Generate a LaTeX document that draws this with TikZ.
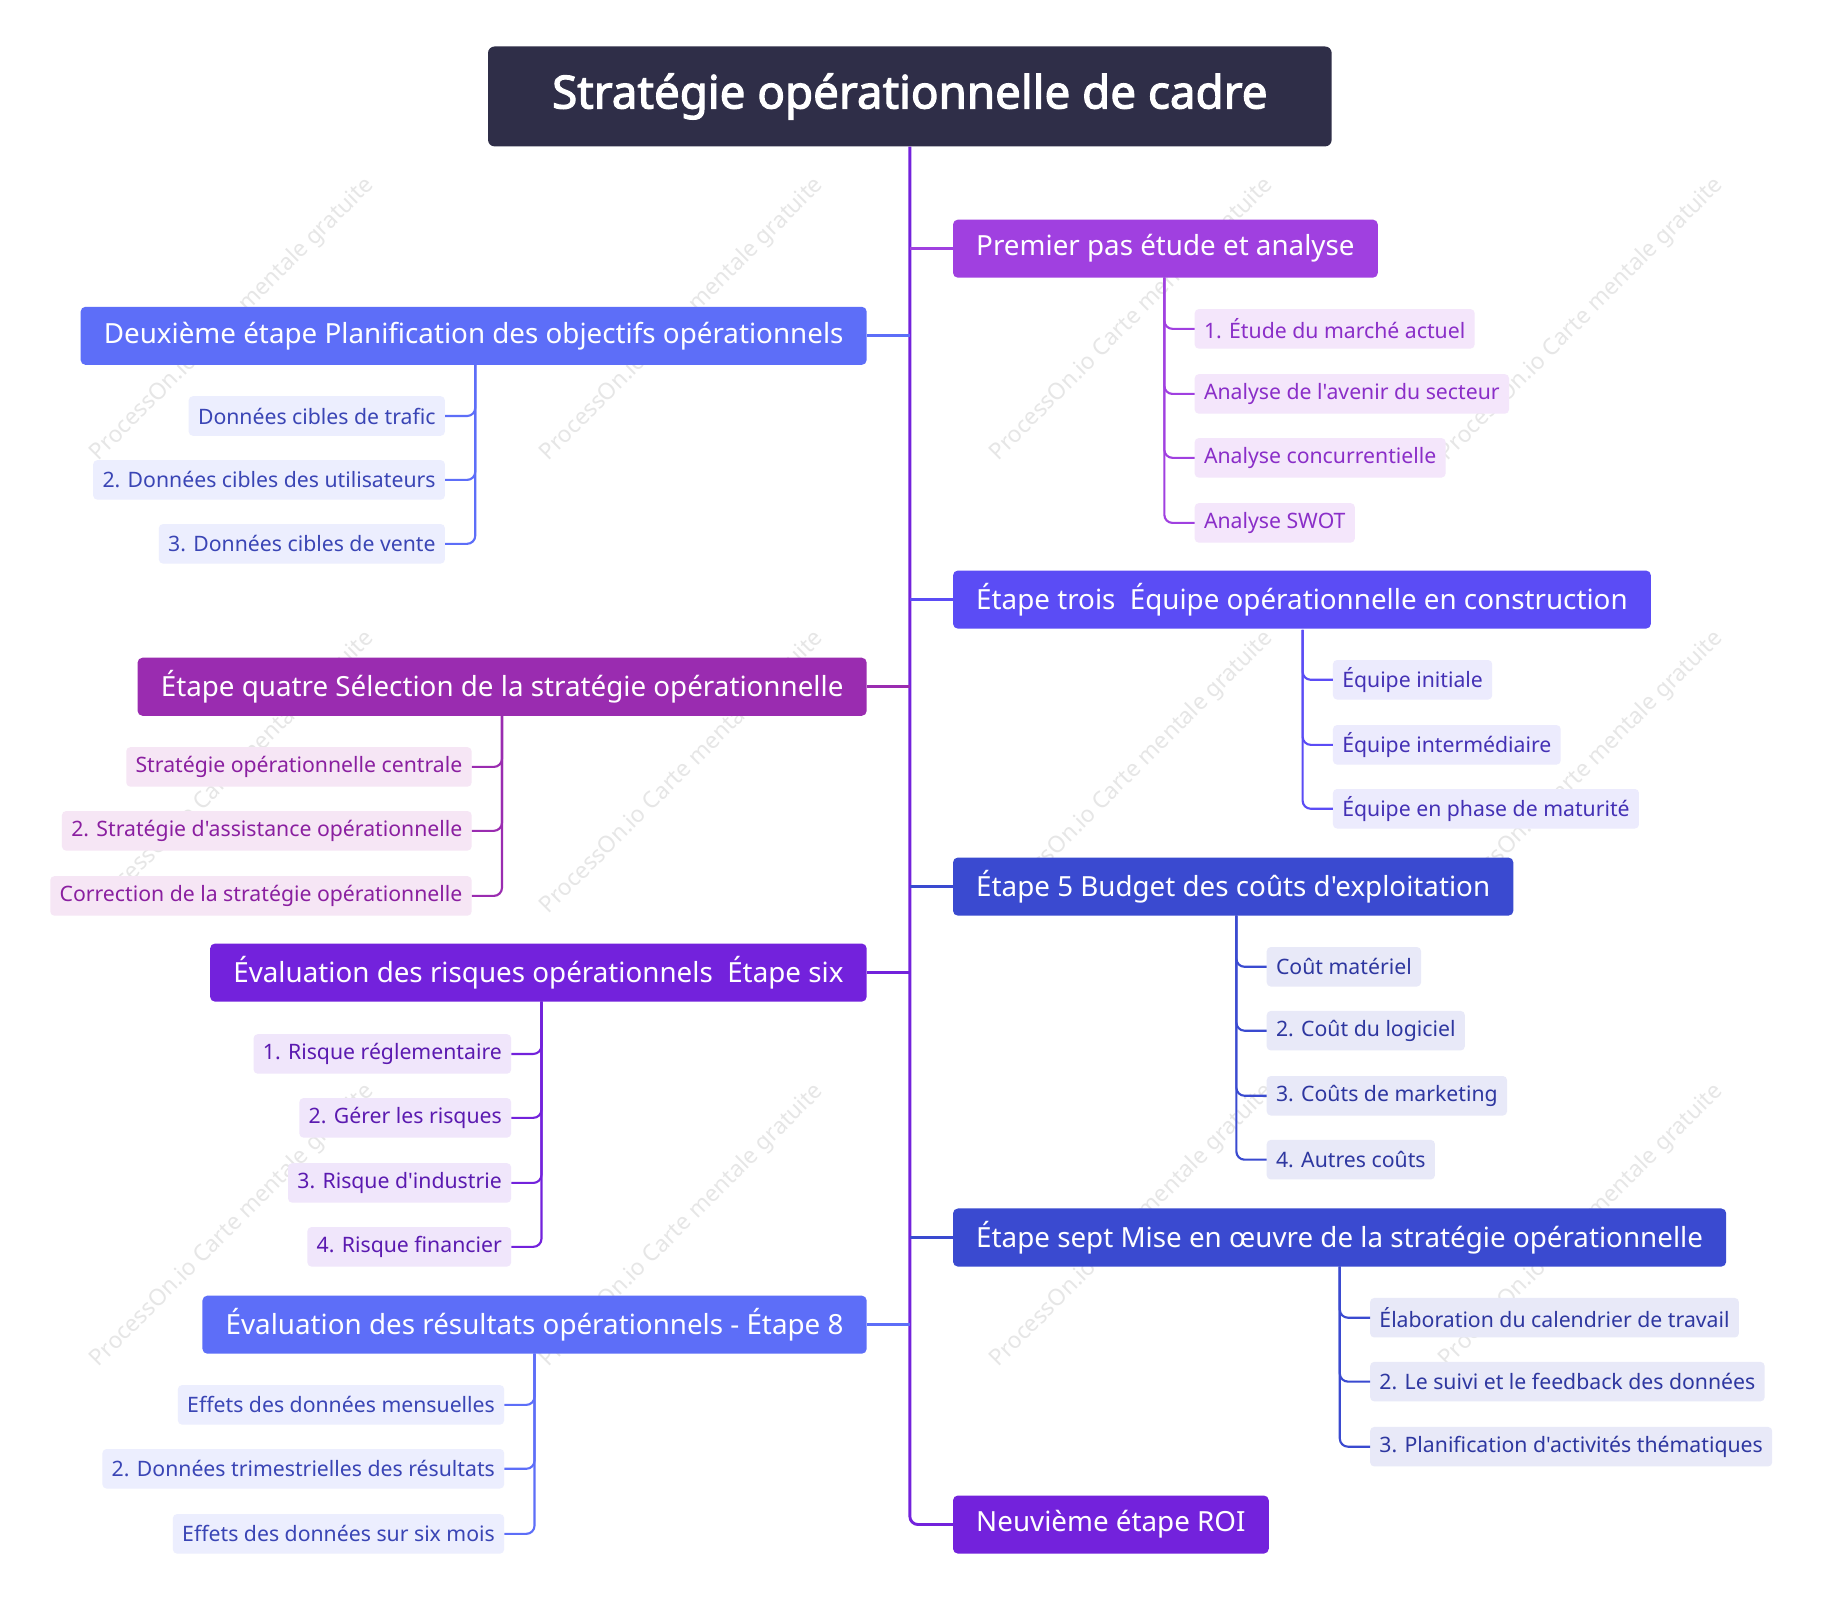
\documentclass[tikz,border=0pt]{standalone}
\usepackage{fontspec}
\setmainfont{Noto Sans}[Ligatures=TeXOff]
\newfontfamily\titlefont{Noto Sans}[FakeBold=2.5]
\definecolor{titlec}{HTML}{2F2E48}
\definecolor{trunkc}{HTML}{7322DC}
\definecolor{cA}{HTML}{A040E0}\definecolor{lA}{HTML}{F4E6FB}\definecolor{tA}{HTML}{8A2EC8}
\definecolor{cB}{HTML}{5B4CF5}\definecolor{lB}{HTML}{ECEBFD}\definecolor{tB}{HTML}{4431B5}
\definecolor{cC}{HTML}{3A4AD0}\definecolor{lC}{HTML}{E8E9F8}\definecolor{tC}{HTML}{2E37A0}
\definecolor{cD}{HTML}{5D6EF8}\definecolor{lD}{HTML}{ECEEFE}\definecolor{tD}{HTML}{3A45B5}
\definecolor{cE}{HTML}{9A2CB0}\definecolor{lE}{HTML}{F6E6F5}\definecolor{tE}{HTML}{8A1FA0}
\definecolor{cF}{HTML}{7322DC}\definecolor{lF}{HTML}{F0E6FB}\definecolor{tF}{HTML}{5B1AB0}
\definecolor{wm}{HTML}{E6E6E6}
\tikzset{
 branchbox/.style={rounded corners=6pt, fill=#1, text=white, minimum height=50*0.05cm, inner xsep=20*0.05cm, font=\fontsize{34pt}{40pt}\selectfont},
 leafbox/.style n args={2}{rounded corners=5pt, fill=#1, text=#2, minimum height=34*0.05cm, inner xsep=8*0.05cm, font=\fontsize{26pt}{30pt}\selectfont},
 conn/.style={draw=#1, line width=3.5pt},
 lconn/.style={draw=#1, line width=2.6pt, rounded corners=10pt},
 wmark/.style={text=wm, rotate=45, font=\fontsize{28pt}{32pt}\selectfont}
}
\begin{document}
\begin{tikzpicture}[x=0.05cm,y=-0.05cm]
\useasboundingbox[fill=white] (0,0) rectangle (1568,1389);
% watermarks
\begin{scope}
\clip (0,0) rectangle (1568,1389);
\foreach \xx in {200,587,974,1361}{
 \foreach \yy in {275,665,1055}{
  \node[wmark] at (\xx,\yy) {ProcessOn.io Carte mentale gratuite};
 }}
\end{scope}
% title
\node[rounded corners=8pt, fill=titlec, text=white, minimum width=726*0.05cm, minimum height=86*0.05cm, font=\fontsize{56pt}{62pt}\titlefont] (title) at (783,83) {Stratégie opérationnelle de cadre};
% right branches
\node[branchbox=cA, anchor=west] (b1) at (820,214) {Premier pas étude et analyse};
\node[branchbox=cB, anchor=west] (b3) at (820,516) {Étape trois\ \ Équipe opérationnelle en construction};
\node[branchbox=cC, anchor=west] (b5) at (820,763) {Étape 5 Budget des coûts d'exploitation};
\node[branchbox=cC, anchor=west] (b7) at (820,1065) {Étape sept Mise en œuvre de la stratégie opérationnelle};
\node[branchbox=cF, anchor=west] (b9) at (820,1312) {Neuvième étape ROI};
% left branches
\node[branchbox=cD, anchor=east] (b2) at (746,289) {Deuxième étape Planification des objectifs opérationnels};
\node[branchbox=cE, anchor=east] (b4) at (746,591) {Étape quatre Sélection de la stratégie opérationnelle};
\node[branchbox=cF, anchor=east] (b6) at (746,837) {Évaluation des risques opérationnels\ \ Étape six};
\node[branchbox=cD, anchor=east] (b8) at (746,1140) {Évaluation des résultats opérationnels - Étape 8};
% trunk
\draw[conn=trunkc, rounded corners=10pt] (title.south) |- (b9.west);
\foreach \b/\c in {b1/cA,b3/cB,b5/cC,b7/cC}{\draw[conn=\c] (783,0 |- \b.west) -- (\b.west);}
\foreach \b/\c in {b2/cD,b4/cE,b6/cF,b8/cD}{\draw[conn=\c] (783,0 |- \b.east) -- (\b.east);}
% leaves b1
\coordinate (s1) at (1002,239);
\node[leafbox={lA}{tA}, anchor=west] (l1a) at (1028,283) {1. Étude du marché actuel};
\node[leafbox={lA}{tA}, anchor=west] (l1b) at (1028,339) {Analyse de l'avenir du secteur};
\node[leafbox={lA}{tA}, anchor=west] (l1c) at (1028,394) {Analyse concurrentielle};
\node[leafbox={lA}{tA}, anchor=west] (l1d) at (1028,450) {Analyse SWOT};
\foreach \l in {l1a,l1b,l1c,l1d}{\draw[lconn=cA] (s1) |- (\l.west);}
% leaves b3
\coordinate (s3) at (1121,542);
\node[leafbox={lB}{tB}, anchor=west] (l3a) at (1147,585) {Équipe initiale};
\node[leafbox={lB}{tB}, anchor=west] (l3b) at (1147,641) {Équipe intermédiaire};
\node[leafbox={lB}{tB}, anchor=west] (l3c) at (1147,696) {Équipe en phase de maturité};
\foreach \l in {l3a,l3b,l3c}{\draw[lconn=cB] (s3) |- (\l.west);}
% leaves b5
\coordinate (s5) at (1064,788);
\node[leafbox={lC}{tC}, anchor=west] (l5a) at (1090,832) {Coût matériel};
\node[leafbox={lC}{tC}, anchor=west] (l5b) at (1090,887) {2. Coût du logiciel};
\node[leafbox={lC}{tC}, anchor=west] (l5c) at (1090,943) {3. Coûts de marketing};
\node[leafbox={lC}{tC}, anchor=west] (l5d) at (1090,998) {4. Autres coûts};
\foreach \l in {l5a,l5b,l5c,l5d}{\draw[lconn=cC] (s5) |- (\l.west);}
% leaves b7
\coordinate (s7) at (1153,1090);
\node[leafbox={lC}{tC}, anchor=west] (l7a) at (1179,1134) {Élaboration du calendrier de travail};
\node[leafbox={lC}{tC}, anchor=west] (l7b) at (1179,1189) {2. Le suivi et le feedback des données};
\node[leafbox={lC}{tC}, anchor=west] (l7c) at (1179,1245) {3. Planification d'activités thématiques};
\foreach \l in {l7a,l7b,l7c}{\draw[lconn=cC] (s7) |- (\l.west);}
% leaves b2
\coordinate (s2) at (409,314);
\node[leafbox={lD}{tD}, anchor=east] (l2a) at (383,358) {Données cibles de trafic};
\node[leafbox={lD}{tD}, anchor=east] (l2b) at (383,413) {2. Données cibles des utilisateurs};
\node[leafbox={lD}{tD}, anchor=east] (l2c) at (383,468) {3. Données cibles de vente};
\foreach \l in {l2a,l2b,l2c}{\draw[lconn=cD] (s2) |- (\l.east);}
% leaves b4
\coordinate (s4) at (432,616);
\node[leafbox={lE}{tE}, anchor=east] (l4a) at (406,660) {Stratégie opérationnelle centrale};
\node[leafbox={lE}{tE}, anchor=east] (l4b) at (406,715) {2. Stratégie d'assistance opérationnelle};
\node[leafbox={lE}{tE}, anchor=east] (l4c) at (406,771) {Correction de la stratégie opérationnelle};
\foreach \l in {l4a,l4b,l4c}{\draw[lconn=cE] (s4) |- (\l.east);}
% leaves b6
\coordinate (s6) at (466,862);
\node[leafbox={lF}{tF}, anchor=east] (l6a) at (440,907) {1. Risque réglementaire};
\node[leafbox={lF}{tF}, anchor=east] (l6b) at (440,962) {2. Gérer les risques};
\node[leafbox={lF}{tF}, anchor=east] (l6c) at (440,1018) {3. Risque d'industrie};
\node[leafbox={lF}{tF}, anchor=east] (l6d) at (440,1073) {4. Risque financier};
\foreach \l in {l6a,l6b,l6c,l6d}{\draw[lconn=cF] (s6) |- (\l.east);}
% leaves b8
\coordinate (s8) at (460,1165);
\node[leafbox={lD}{tD}, anchor=east] (l8a) at (434,1209) {Effets des données mensuelles};
\node[leafbox={lD}{tD}, anchor=east] (l8b) at (434,1264) {2. Données trimestrielles des résultats};
\node[leafbox={lD}{tD}, anchor=east] (l8c) at (434,1320) {Effets des données sur six mois};
\foreach \l in {l8a,l8b,l8c}{\draw[lconn=cD] (s8) |- (\l.east);}
\end{tikzpicture}
\end{document}
